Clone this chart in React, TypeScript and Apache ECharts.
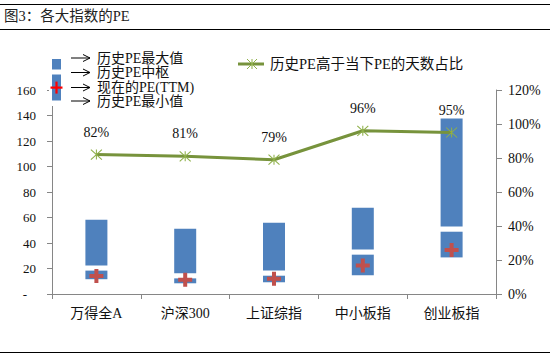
import React, { useEffect, useRef } from "react";
import * as echarts from "echarts";

const categories = ["万得全A", "沪深300", "上证综指", "中小板指", "创业板指"];
const peMax = [58.2, 51.2, 55.9, 67.6, 137.7];
const peMedian = [20.4, 14.3, 16.4, 32.9, 50.9];
const peMin = [11.6, 8.4, 9.2, 14.7, 28.7];
const peNow = [14.2, 11.1, 11.9, 22.3, 34.5];
const pctAbove = [82, 81, 79, 96, 95];
const leftTicks = [0, 20, 40, 60, 80, 100, 120, 140, 160];
const legendLeft = ["历史PE最大值", "历史PE中枢", "现在的PE(TTM)", "历史PE最小值"];
const legendRight = "历史PE高于当下PE的天数占比";
const title = "图3：各大指数的PE";

const SERIF = "'Liberation Serif', 'Noto Sans CJK SC', serif";
const BLUE = "#4F81BD";
const RED = "#C0504D";
const GREEN = "#77933C";
const AXIS = "#868686";

export default function App() {
  const ref = useRef<HTMLDivElement>(null);
  useEffect(() => {
    if (!ref.current) return;
    const chart = echarts.init(ref.current, undefined, { renderer: "svg" });
    const gap = 4.1;
    const low = peMedian.map((m, i) => m - gap / 2 - peMin[i]);
    const high = peMax.map((mx, i) => mx - peMedian[i] - gap / 2);
    const rowsY = [58, 72.5, 87.5, 101];
    const arrows: any[] = [];
    rowsY.forEach((y, i) => {
      arrows.push({ type: "line", shape: { x1: 71, y1: y, x2: 90, y2: y }, style: { stroke: "#000", lineWidth: 1 }, z: 101 });
      arrows.push({ type: "polyline", shape: { points: [[83, y - 3.5], [90, y], [83, y + 3.5]] }, style: { stroke: "#000", lineWidth: 1, fill: "none" }, z: 101 });
      arrows.push({ type: "text", x: 97, y, style: { text: legendLeft[i], font: `14px ${SERIF}`, fill: "#111", verticalAlign: "middle" }, z: 101 });
    });
    const option: any = {
      animation: false,
      grid: { left: 52, right: 54, top: 90, bottom: 61 },
      xAxis: {
        type: "category",
        data: categories,
        axisLine: { lineStyle: { color: AXIS, width: 1 } },
        axisTick: { show: true, length: 5, lineStyle: { color: AXIS } },
        axisLabel: { fontSize: 14, fontFamily: SERIF, color: "#111", margin: 12 },
      },
      yAxis: [
        {
          type: "value",
          min: leftTicks[0],
          max: leftTicks[leftTicks.length - 1],
          interval: 20,
          axisLine: { show: true, lineStyle: { color: AXIS } },
          axisTick: { show: true, length: 5, lineStyle: { color: AXIS } },
          splitLine: { show: false },
          axisLabel: {
            fontSize: 13,
            fontFamily: SERIF,
            color: "#111",
            margin: 16,
            formatter: (v: number) => (v === 0 ? "{d|-}" : String(v)),
            rich: { d: { fontSize: 13, fontFamily: SERIF, color: "#111", padding: [0, 9, 0, 0] } },
          },
        },
        {
          type: "value",
          min: 0,
          max: 120,
          interval: 20,
          position: "right",
          axisLine: { show: true, lineStyle: { color: AXIS } },
          axisTick: { show: true, length: 6, lineStyle: { color: AXIS } },
          splitLine: { show: false },
          axisLabel: { fontSize: 14, fontFamily: SERIF, color: "#111", margin: 12, formatter: "{value}%" },
        },
      ],
      series: [
        { type: "bar", stack: "pe", data: peMin, barWidth: 22, itemStyle: { color: "transparent" }, silent: true },
        { type: "bar", stack: "pe", data: low, barWidth: 22, itemStyle: { color: BLUE } },
        { type: "bar", stack: "pe", data: peMin.map(() => gap), barWidth: 22, itemStyle: { color: "transparent" } },
        { type: "bar", stack: "pe", data: high, barWidth: 22, itemStyle: { color: BLUE } },
        {
          type: "scatter",
          data: peNow,
          symbol: "path://M5,0H9V5H14V9H9V14H5V9H0V5H5Z",
          symbolSize: 14,
          itemStyle: { color: RED, opacity: 1 },
          z: 5,
        },
        {
          type: "line",
          yAxisIndex: 1,
          data: pctAbove,
          lineStyle: { color: GREEN, width: 3 },
          symbol: "path://M0,0L10,10M10,0L0,10M5,0L5,10",
          symbolSize: [11, 10],
          showAllSymbol: true,
          itemStyle: { color: "none", borderColor: "#8FB04A", borderWidth: 1 },
          label: {
            show: true,
            position: "top",
            distance: 8,
            formatter: "{c}%",
            fontSize: 14,
            fontFamily: SERIF,
            color: "#111",
          },
          z: 6,
        },
      ],
      graphic: [
        { type: "line", shape: { x1: 0, y1: 4.5, x2: 550, y2: 4.5 }, style: { stroke: "#000", lineWidth: 1 } },
        { type: "line", shape: { x1: 0, y1: 29.5, x2: 550, y2: 29.5 }, style: { stroke: "#000", lineWidth: 1 } },
        { type: "line", shape: { x1: 0, y1: 352.5, x2: 550, y2: 352.5 }, style: { stroke: "#000", lineWidth: 1 } },
        { type: "text", x: 4, y: 16, style: { text: title, font: `14.5px ${SERIF}`, fill: "#222", verticalAlign: "middle" } },
        { type: "rect", shape: { x: 49, y: 45, width: 190, height: 61 }, style: { fill: "#fff" }, z: 100 },
        { type: "rect", shape: { x: 52, y: 59, width: 9, height: 10.5 }, style: { fill: BLUE }, z: 101 },
        { type: "rect", shape: { x: 52, y: 74.5, width: 9, height: 26 }, style: { fill: BLUE }, z: 101 },
        { type: "rect", shape: { x: 50.5, y: 86.5, width: 12, height: 2.2 }, style: { fill: "#FF0000" }, z: 102 },
        { type: "rect", shape: { x: 55.4, y: 81.6, width: 2.2, height: 12 }, style: { fill: "#FF0000" }, z: 102 },
        ...arrows,
        { type: "line", shape: { x1: 238, y1: 64, x2: 264, y2: 64 }, style: { stroke: GREEN, lineWidth: 3 }, z: 101 },
        { type: "line", shape: { x1: 247, y1: 59, x2: 257, y2: 69 }, style: { stroke: "#8FB04A", lineWidth: 1 }, z: 102 },
        { type: "line", shape: { x1: 257, y1: 59, x2: 247, y2: 69 }, style: { stroke: "#8FB04A", lineWidth: 1 }, z: 102 },
        { type: "line", shape: { x1: 252, y1: 59, x2: 252, y2: 69 }, style: { stroke: "#8FB04A", lineWidth: 1 }, z: 102 },
        { type: "text", x: 270, y: 64, style: { text: legendRight, font: `14.5px ${SERIF}`, fill: "#111", verticalAlign: "middle" }, z: 101 },
      ],
    };
    chart.setOption(option);
    return () => chart.dispose();
  }, []);
  return <div ref={ref} style={{ position: "fixed", left: 0, top: 0, width: 550, height: 355, background: "#fff" }} />;
}
